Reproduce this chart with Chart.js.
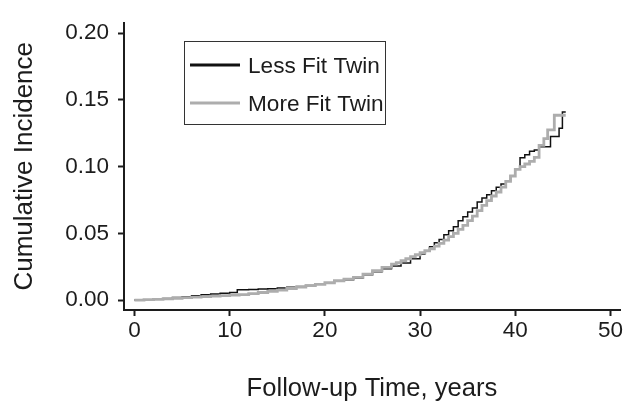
<!DOCTYPE html>
<html>
<head>
<meta charset="utf-8">
<script src="https://cdn.jsdelivr.net/npm/chart.js@4/dist/chart.umd.min.js"></script>
<style>
  body { margin: 0; background: #fff; }
  canvas { display: block; }
</style>
</head>
<body>
<canvas id="incidenceChart" width="625" height="403"></canvas>
<script>
// Cumulative incidence
const lessFitTime = [0, 1, 2, 3, 4, 5, 6, 7, 8, 9, 10, 10.8, 12, 13, 14, 15, 16, 17, 18, 19, 20, 21, 22, 23, 24, 25, 26, 27, 28, 29, 30,
    30.5, 31, 31.5, 32, 32.5, 33, 33.5, 34, 34.5, 35, 35.5, 36, 36.5, 37, 37.5, 38, 38.5, 39, 39.5, 40, 40.5, 41, 41.5, 42, 42.5,
    43.7, 44.6, 44.95, 45.3];
const lessFitValue = [0, 0.0003, 0.0008, 0.0013, 0.0019, 0.0026, 0.0033, 0.004, 0.0046, 0.0052, 0.0058, 0.0077, 0.008, 0.0083, 0.0086, 0.009,
    0.0096, 0.0103, 0.011, 0.012, 0.013, 0.0142, 0.0153, 0.0165, 0.019, 0.0213, 0.0235, 0.0255, 0.0278, 0.031, 0.0345,
    0.037, 0.040, 0.043, 0.0455, 0.049, 0.052, 0.055, 0.0595, 0.0625, 0.066, 0.069, 0.0735, 0.0765, 0.079, 0.082, 0.0845, 0.087,
    0.0895, 0.093, 0.098, 0.1066, 0.109, 0.1115, 0.1125, 0.115, 0.1225, 0.1287, 0.141, 0.141];

const moreFitTime = [0, 1, 2, 3, 4, 5, 6, 7, 8, 9, 10, 11, 12, 13, 14, 15, 16, 17, 18, 19, 20, 21, 22, 23, 24, 25, 26, 27,
    27.5, 28, 28.5, 29, 29.5, 30, 30.5, 31, 31.5, 32, 32.5, 33, 33.5, 34, 34.5, 35, 35.5, 36, 36.5, 37, 37.5, 38, 38.5, 39, 39.5, 40,
    40.5, 41, 41.5, 42, 42.5, 43, 43.4, 44.1, 45.3];
const moreFitValue = [0, 0.0003, 0.0006, 0.001, 0.0014, 0.0018, 0.0022, 0.0026, 0.003, 0.0034, 0.0037, 0.0041, 0.0048, 0.0057, 0.0066, 0.0075,
    0.0087, 0.0098, 0.0108, 0.0118, 0.013, 0.0145, 0.0158, 0.017, 0.0195, 0.022, 0.0245, 0.027,
    0.028, 0.0295, 0.031, 0.0325, 0.034, 0.0355, 0.037, 0.0385, 0.0405, 0.0425, 0.045, 0.0475, 0.050, 0.053, 0.056, 0.0595, 0.063,
    0.067, 0.071, 0.0745, 0.078, 0.081, 0.0846, 0.089, 0.093, 0.098,
    0.100, 0.102, 0.104, 0.107, 0.116, 0.121, 0.1275, 0.1385, 0.1385];

const seriesLabels = ['Less Fit Twin', 'More Fit Twin'];
const xTicks = [0, 10, 20, 30, 40, 50];
const yTicks = [0, 0.05, 0.10, 0.15, 0.20];

const INK = '#1c1c1c';
const GRAY = '#adadad';

Chart.defaults.font.family = '"Liberation Sans", Arial, sans-serif';
Chart.defaults.color = INK;

function toPoints(xs, ys) {
    return xs.map(function (x, i) { return { x: x, y: ys[i] }; });
}

// Boxed legend drawn inside the plot
const boxLegend = {
    id: 'boxLegend',
    afterDraw(chart) {
        const ctx = chart.ctx;
        ctx.save();
        ctx.strokeStyle = '#333';
        ctx.lineWidth = 1;
        ctx.strokeRect(184.5, 41.5, 201, 83);
        ctx.font = '22.6px "Liberation Sans", Arial, sans-serif';
        ctx.textBaseline = 'alphabetic';
        ctx.textAlign = 'left';
        const rows = [65, 103];
        chart.data.datasets.forEach(function (ds, i) {
            ctx.strokeStyle = ds.borderColor;
            ctx.lineWidth = 3;
            ctx.beginPath();
            ctx.moveTo(190, rows[i]);
            ctx.lineTo(240, rows[i]);
            ctx.stroke();
            ctx.fillStyle = INK;
            ctx.fillText(ds.label, 248, rows[i] + 7.5);
        });
        ctx.restore();
    }
};

new Chart(document.getElementById('incidenceChart'), {
    type: 'line',
    data: {
        datasets: [{
            label: seriesLabels[0],
            data: toPoints(lessFitTime, lessFitValue),
            borderColor: '#111',
            borderWidth: 1.5,
            stepped: true,
            pointRadius: 0,
            order: 2
        }, {
            label: seriesLabels[1],
            data: toPoints(moreFitTime, moreFitValue),
            borderColor: GRAY,
            borderWidth: 2.8,
            stepped: true,
            pointRadius: 0,
            order: 1
        }]
    },
    options: {
        responsive: false,
        animation: false,
        layout: { padding: { top: 17, right: 5, left: 0, bottom: 0 } },
        plugins: {
            legend: { display: false },
            tooltip: { enabled: false }
        },
        scales: {
            x: {
                type: 'linear',
                min: -1.1,
                max: 51.0,
                afterBuildTicks: function (scale) {
                    scale.ticks = xTicks.map(function (v) { return { value: v }; });
                },
                afterFit: function (scale) { scale.height = 93; },
                border: { display: true, color: INK, width: 2 },
                grid: { drawOnChartArea: false, drawTicks: true, tickLength: 6, tickWidth: 2, tickColor: INK },
                ticks: {
                    padding: 1,
                    maxRotation: 0,
                    font: { size: 22.5 },
                    callback: function (v) { return String(v); }
                },
                title: {
                    display: true,
                    text: 'Follow-up Time, years',
                    font: { size: 25.6, lineHeight: 1 },
                    padding: { top: 0, bottom: 1 }
                }
            },
            y: {
                type: 'linear',
                min: -0.0074,
                max: 0.208,
                afterBuildTicks: function (scale) {
                    scale.ticks = yTicks.map(function (v) { return { value: v }; });
                },
                afterFit: function (scale) { scale.width = 124; },
                border: { display: true, color: INK, width: 2 },
                grid: { drawOnChartArea: false, drawTicks: true, tickLength: 6, tickWidth: 2, tickColor: INK },
                ticks: {
                    padding: 9,
                    font: { size: 22.5 },
                    callback: function (v) { return v.toFixed(2); }
                },
                title: {
                    display: true,
                    text: 'Cumulative Incidence',
                    font: { size: 26, lineHeight: 1.2 },
                    padding: { top: 9, bottom: 0 }
                }
            }
        }
    },
    plugins: [boxLegend]
});
</script>
</body>
</html>
